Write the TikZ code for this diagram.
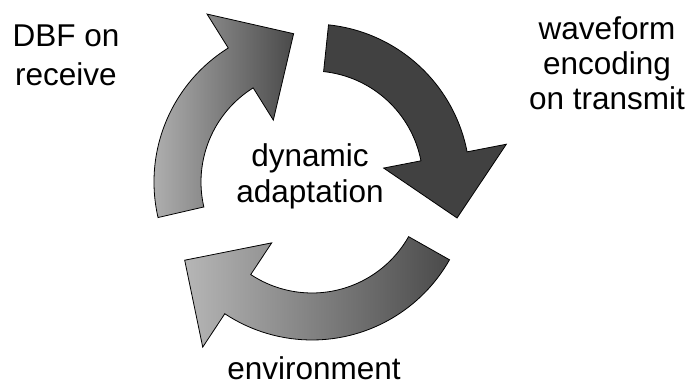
\documentclass[tikz,border=0pt]{standalone}
\usepackage{fontspec}
\setmainfont{Liberation Sans}
\usetikzlibrary{calc}

\definecolor{arclight}{HTML}{B6B6B6}
\definecolor{arcdark}{HTML}{4A4A4A}
\definecolor{arcsolid}{HTML}{414141}

\tikzset{
  cycle label/.style={font=\fontsize{31.5}{36}\selectfont, align=center, inner sep=0pt, anchor=base},
  bent arrow/.style={draw=black, line width=0.8pt, line join=miter},
}

% curved block arrow around the cycle centre:
% #1 = tail angle, #2 = angle of the head base, #3 = fill style
\newcommand\bentarrow[3]{%
  \path[bent arrow,#3]
    (#1:158pt) arc[start angle=#1, end angle=#2, radius=158pt]
    -- (#2:198pt) -- ($(#2:135.5pt)+(#2-90:63pt)$) -- (#2:73pt) -- (#2:111pt)
    arc[start angle=#2, end angle=#1, radius=111pt] -- cycle;}

\begin{document}
\begin{tikzpicture}
  \useasboundingbox[fill=white] (0,0) rectangle (690pt,387pt);

  \begin{scope}[shift={(312pt,205pt)}]
    \bentarrow{193}{122}{left color=arclight, right color=arcdark}
    \bentarrow{84}{11}{fill=arcsolid}
    \bentarrow{330.5}{236.5}{left color=arclight, right color=arcdark}
  \end{scope}

  % anchor=base sits on the last line of each label
  \node[cycle label] (dbf) at (66pt,301pt) {DBF on\\[3pt]receive};
  \node[cycle label] (wave) at (607pt,277pt) {waveform\\[-1pt]encoding\\[-1pt]on transmit};
  \node[cycle label] (adapt) at (310pt,184pt) {dynamic\\adaptation};
  \node[cycle label] (env) at (314pt,7pt) {environment};
\end{tikzpicture}
\end{document}
